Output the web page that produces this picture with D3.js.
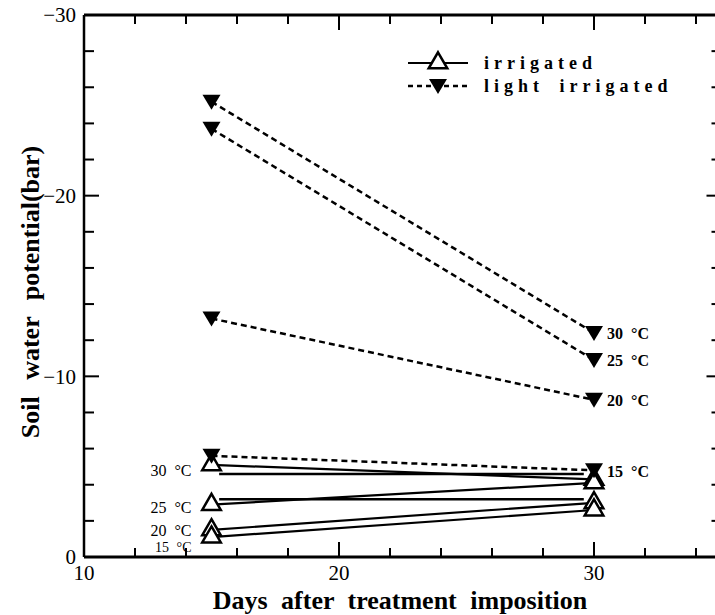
<!DOCTYPE html>
<html>
<head>
<meta charset="utf-8">
<script src="https://cdn.jsdelivr.net/npm/d3@7"></script>
<style>
  body { margin: 0; background: #fff; }
  svg { display: block; }
  text { font-family: "Liberation Serif", "DejaVu Serif", serif; fill: #000; }
</style>
</head>
<body>
<svg id="chart" width="715" height="615"></svg>
<script>
// sampling days and temperature treatments
const days = [15, 30];
const temps = ["30 °C", "25 °C", "20 °C", "15 °C"];

// soil water potential (bar), one pair [day 15, day 30] per temperature
const irrigated = [[-5.1, -4.3], [-2.9, -4.1], [-1.5, -3.0], [-1.1, -2.6]];
const lightIrrigated = [[-25.2, -12.4], [-23.7, -10.9], [-13.2, -8.7], [-5.6, -4.8]];

// two stray flat rules in the original figure (start day, end day, value)
const flatStart = [15.3, 15.3];
const flatEnd = [29.6, 29.6];
const flatValue = [-4.6, -3.2];

const yMajor = [-30, -20, -10, 0];
const xMajor = [10, 20, 30];

const svg = d3.select("#chart");
const x = d3.scaleLinear().domain([10, 35]).range([84, 721.5]);
const y = d3.scaleLinear().domain([0, -30]).range([557, 15]);

const minorY = d3.range(0, -31, -2);
const minorX = d3.range(10, 36, 2);

// frame
const frame = svg.append("g").attr("stroke", "#000").attr("fill", "none");
frame.append("line").attr("x1", x(10)).attr("x2", x(35)).attr("y1", y(0)).attr("y2", y(0)).attr("stroke-width", 3);
frame.append("line").attr("x1", x(10)).attr("x2", x(35)).attr("y1", y(-30)).attr("y2", y(-30)).attr("stroke-width", 3);
frame.append("line").attr("x1", x(10)).attr("x2", x(10)).attr("y1", y(0)).attr("y2", y(-30)).attr("stroke-width", 2.5);
frame.append("line").attr("x1", x(35)).attr("x2", x(35)).attr("y1", y(0)).attr("y2", y(-30)).attr("stroke-width", 2.5);

// inward ticks on all four sides
const ticks = svg.append("g").attr("stroke", "#000").attr("stroke-width", 2);
minorY.forEach(v => {
  const len = yMajor.includes(v) ? 15 : 10;
  ticks.append("line").attr("x1", x(10)).attr("x2", x(10) + len).attr("y1", y(v)).attr("y2", y(v));
  ticks.append("line").attr("x1", x(35)).attr("x2", x(35) - len).attr("y1", y(v)).attr("y2", y(v));
});
minorX.forEach(v => {
  const len = xMajor.includes(v) ? 15 : 9;
  ticks.append("line").attr("x1", x(v)).attr("x2", x(v)).attr("y1", y(0)).attr("y2", y(0) - len);
  ticks.append("line").attr("x1", x(v)).attr("x2", x(v)).attr("y1", y(-30)).attr("y2", y(-30) + len);
});

// tick labels
svg.append("g").selectAll("text").data(yMajor).join("text")
  .attr("x", x(10) - 8).attr("y", d => y(d)).attr("dy", "0.35em")
  .attr("text-anchor", "end").attr("font-size", 21)
  .text(d => d === 0 ? "0" : "\u2212" + Math.abs(d));
svg.append("g").selectAll("text").data(xMajor).join("text")
  .attr("x", d => x(d)).attr("y", 580)
  .attr("text-anchor", "middle").attr("font-size", 21)
  .text(d => d);

// axis titles
svg.append("text")
  .attr("transform", "translate(39,292) rotate(-90)")
  .attr("text-anchor", "middle").attr("font-size", 26).attr("font-weight", "bold")
  .attr("word-spacing", 10)
  .text("Soil water potential(bar)");
svg.append("text")
  .attr("x", 400).attr("y", 609)
  .attr("text-anchor", "middle").attr("font-size", 26).attr("font-weight", "bold")
  .attr("word-spacing", 7)
  .text("Days after treatment imposition");

const line = d3.line().x(d => x(d[0])).y(d => y(d[1]));
const up = d3.symbol().type(d3.symbolTriangle).size(150);
const down = "M-9,-7L9,-7L0,8Z";

// flat rules
svg.append("g").selectAll("line").data(flatValue).join("line")
  .attr("x1", (d, i) => x(flatStart[i])).attr("x2", (d, i) => x(flatEnd[i]))
  .attr("y1", d => y(d)).attr("y2", d => y(d))
  .attr("stroke", "#000").attr("stroke-width", 2.5);

// irrigated series
const irr = svg.append("g");
irrigated.forEach(vals => {
  irr.append("path").datum(days.map((d, i) => [d, vals[i]]))
    .attr("d", line).attr("fill", "none").attr("stroke", "#000").attr("stroke-width", 2.2);
});
irrigated.forEach(vals => {
  days.forEach((d, i) => {
    irr.append("path").attr("d", up)
      .attr("transform", `translate(${x(d)},${y(vals[i])})`)
      .attr("fill", "#fff").attr("stroke", "#000").attr("stroke-width", 2.5);
  });
});

// light irrigated series
const light = svg.append("g");
lightIrrigated.forEach(vals => {
  light.append("path").datum(days.map((d, i) => [d, vals[i]]))
    .attr("d", line).attr("fill", "none").attr("stroke", "#000")
    .attr("stroke-width", 2.5).attr("stroke-dasharray", "6,4");
});
lightIrrigated.forEach(vals => {
  days.forEach((d, i) => {
    light.append("path").attr("d", down)
      .attr("transform", `translate(${x(d)},${y(vals[i])})`)
      .attr("fill", "#000");
  });
});

// temperature labels
svg.append("g").selectAll("text").data(temps).join("text")
  .attr("x", x(30) + 13).attr("y", (d, i) => y(lightIrrigated[i][1])).attr("dy", "0.4em")
  .attr("font-size", 16).attr("font-weight", "bold").attr("word-spacing", 4)
  .text(d => d);
const leftShift = [6, 3, 0, 10];
svg.append("g").selectAll("text").data(temps).join("text")
  .attr("x", x(15) - 20).attr("y", (d, i) => y(irrigated[i][0]) + leftShift[i]).attr("dy", "0.35em")
  .attr("text-anchor", "end").attr("font-size", (d, i) => i === 3 ? 14 : 16).attr("word-spacing", 4)
  .text(d => d);

// legend
const lg = svg.append("g").attr("transform", "translate(408,0)");
lg.append("line").attr("x1", 0).attr("x2", 60).attr("y1", 63).attr("y2", 63)
  .attr("stroke", "#000").attr("stroke-width", 2);
lg.append("path").attr("d", up).attr("transform", "translate(30,63)")
  .attr("fill", "#fff").attr("stroke", "#000").attr("stroke-width", 2.5);
lg.append("line").attr("x1", 0).attr("x2", 60).attr("y1", 86).attr("y2", 86)
  .attr("stroke", "#000").attr("stroke-width", 2.5).attr("stroke-dasharray", "5,4");
lg.append("path").attr("d", down).attr("transform", "translate(30,86)").attr("fill", "#000");
lg.selectAll("text").data(["irrigated", "light irrigated"]).join("text")
  .attr("x", 76).attr("y", (d, i) => 63 + i * 23).attr("dy", "0.35em")
  .attr("font-size", 18).attr("font-weight", "bold").attr("letter-spacing", 5)
  .attr("word-spacing", 6)
  .text(d => d);
</script>
</body>
</html>
